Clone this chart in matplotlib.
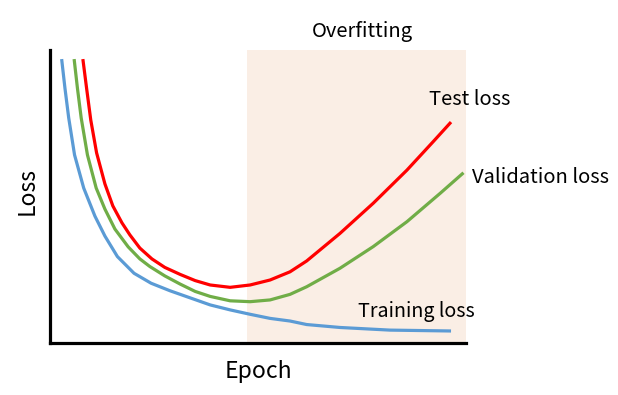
import numpy as np
import matplotlib
matplotlib.use("Agg")
import matplotlib.pyplot as plt

plt.rcParams['font.family'] = ['Noto Sans CJK KR', 'DejaVu Sans']

# curves (epoch 0-100, loss 0-100)
train_x = [2.8, 3.6, 4.5, 5.9, 8.1, 10.8, 13.2, 16.2, 20.2, 24.3, 28.9, 33.7, 38.5,
           43.3, 48.1, 52.9, 57.7, 61.7, 69.7, 81.7, 96.4]
train_y = [96.9, 86.9, 76.8, 64.2, 52.9, 43.3, 36.5, 29.5, 23.8, 20.4, 17.8, 15.4, 13.0,
           11.3, 9.8, 8.4, 7.5, 6.3, 5.3, 4.4, 4.1]

val_x = [5.8, 6.6, 7.5, 9.0, 11.1, 13.2, 15.6, 18.8, 21.6, 24.0, 27.6, 31.3, 34.9,
         38.5, 43.3, 48.1, 52.9, 57.7, 61.7, 69.7, 77.7, 85.8, 93.8, 99.4]
val_y = [96.9, 86.9, 76.8, 64.2, 52.9, 45.7, 38.9, 32.8, 28.7, 26.1, 22.9, 20.1, 17.6,
         15.9, 14.4, 14.1, 14.7, 16.6, 19.2, 25.5, 32.9, 41.4, 51.1, 58.1]

test_x = [7.9, 8.8, 9.8, 11.2, 13.2, 15.1, 17.3, 19.2, 21.6, 24.5, 27.6, 31.3, 34.9,
          38.5, 43.3, 48.1, 52.9, 57.7, 61.7, 69.7, 77.7, 85.8, 92.1, 96.4]
test_y = [96.9, 86.9, 76.1, 64.9, 54.3, 46.8, 41.0, 36.9, 32.4, 28.7, 25.8, 23.4, 21.3,
          19.8, 19.0, 19.8, 21.5, 24.3, 28.0, 37.4, 47.7, 59.0, 68.7, 75.4]

overfit_start = 47.4
overfit_end = 100

fig = plt.figure(figsize=(6.18, 3.95), dpi=100)
ax = fig.add_axes([50 / 618, 52 / 395, 416 / 618, 293 / 395])

ax.axvspan(overfit_start, overfit_end, color='#FAEEE5', lw=0, zorder=0)

lw = 2.3
ax.plot(train_x, train_y, color='#5B9BD5', lw=lw, solid_capstyle='butt', solid_joinstyle='round')
ax.plot(val_x, val_y, color='#70AD47', lw=lw, solid_capstyle='butt', solid_joinstyle='round')
ax.plot(test_x, test_y, color='#FF0000', lw=lw, solid_capstyle='butt', solid_joinstyle='round')

ax.set_xlim(0, 100)
ax.set_ylim(0, 100)
ax.set_xticks([])
ax.set_yticks([])
ax.spines['top'].set_visible(False)
ax.spines['right'].set_visible(False)
for key in ['left', 'bottom']:
    ax.spines[key].set_linewidth(2.3)
    ax.spines[key].set_color('black')

fs = 14.5
ax.text(75.2, 104.5, "Overfitting", fontsize=fs, ha='center', va='baseline', clip_on=False)
ax.text(91.2, 81.2, "Test loss", fontsize=fs, ha='left', va='baseline', clip_on=False)
ax.text(101.5, 54.7, "Validation loss", fontsize=fs, ha='left', va='baseline', clip_on=False)
ax.text(74.0, 9.0, "Training loss", fontsize=14.2, ha='left', va='baseline', clip_on=False)

ax.text(0.5, -0.1205, "Epoch", fontsize=16.5, ha='center', va='baseline',
        transform=ax.transAxes)
ax.text(-0.04, 0.52, "Loss", fontsize=16.5, ha='center', va='baseline',
        rotation=90, rotation_mode='anchor', transform=ax.transAxes)

fig.savefig("out.png", dpi=100)
